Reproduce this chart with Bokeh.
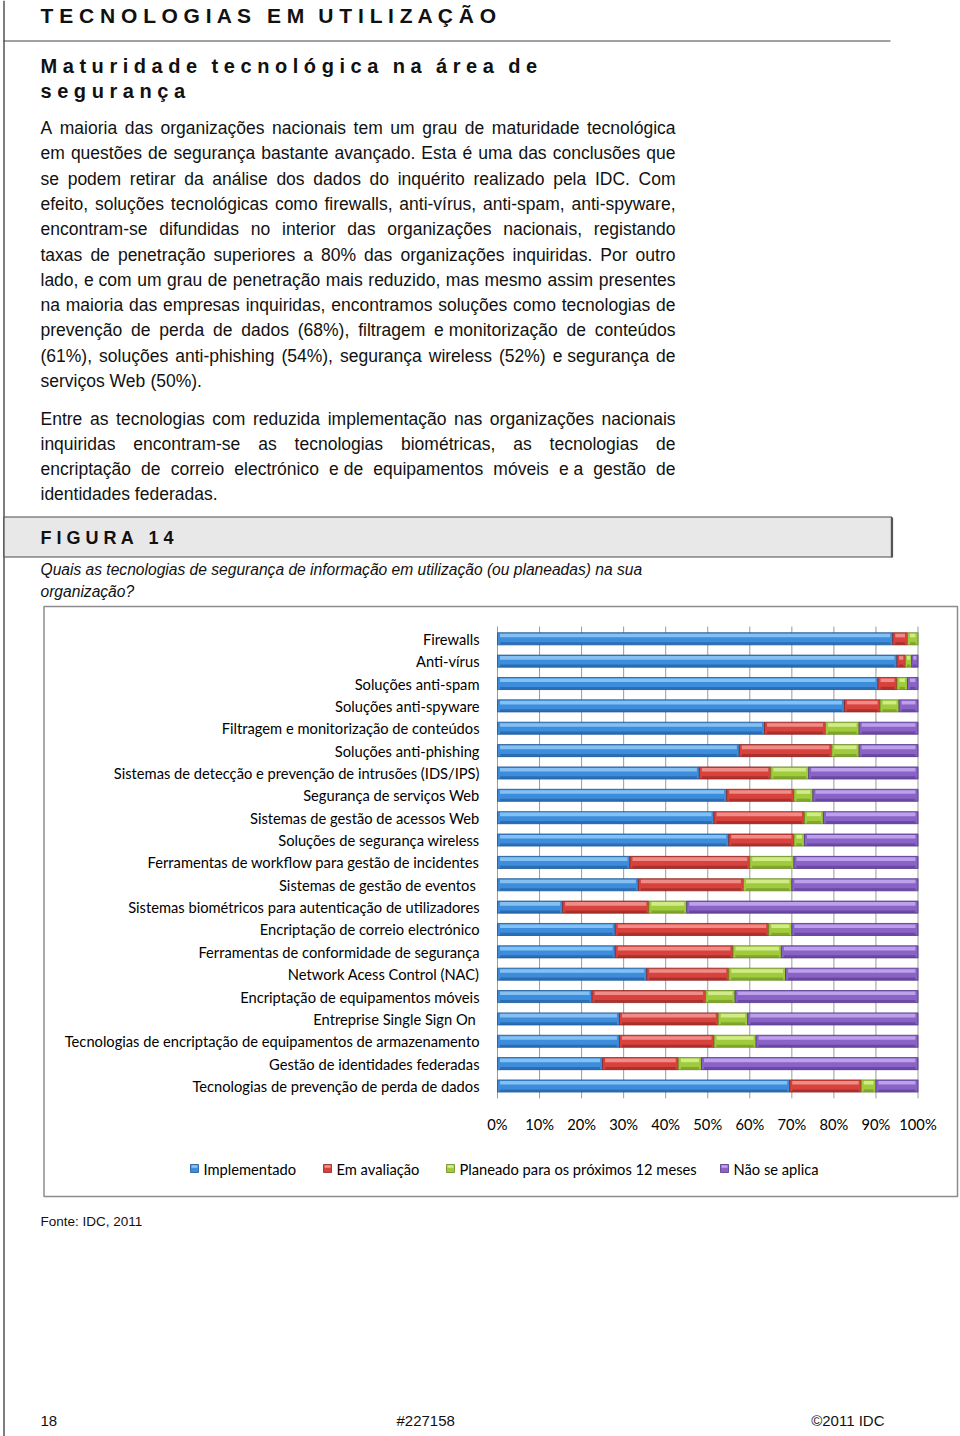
import unicodedata
import numpy as np
from bokeh.plotting import figure
from bokeh.models import Range1d, ColumnDataSource
from bokeh.core.properties import value
from bokeh.embed import file_html
from bokeh.resources import INLINE

# ---------------- data ----------------
categories = [
    "Firewalls",
    "Anti-vírus",
    "Soluções anti-spam",
    "Soluções anti-spyware",
    "Filtragem e monitorização de conteúdos",
    "Soluções anti-phishing",
    "Sistemas de detecção e prevenção de intrusões (IDS/IPS)",
    "Segurança de serviços Web",
    "Sistemas de gestão de acessos Web",
    "Soluções de segurança wireless",
    "Ferramentas de workflow para gestão de incidentes",
    "Sistemas de gestão de eventos ",
    "Sistemas biométricos para autenticação de utilizadores",
    "Encriptação de correio electrónico",
    "Ferramentas de conformidade de segurança",
    "Network Acess Control (NAC)",
    "Encriptação de equipamentos móveis",
    "Entreprise Single Sign On ",
    "Tecnologias de encriptação de equipamentos de armazenamento",
    "Gestão de identidades federadas",
    "Tecnologias de prevenção de perda de dados",
]
implementado = [94, 95, 90.5, 82.5, 63.5, 57.5, 48, 54.5, 51.5, 55, 31.5, 33.5, 15.5, 28, 28, 35.5, 22.5, 29, 29, 25, 69.5]
em_avaliacao = [3.5, 2, 4.5, 8.5, 14.5, 22, 17, 16, 21.5, 15.5, 28.5, 25, 20.5, 36.5, 28, 19.5, 27, 23.5, 22.5, 18, 17]
planeado = [2.5, 1.5, 2.5, 4.5, 8, 6.5, 9, 4.5, 4.5, 2.5, 10.5, 11.5, 9, 5.5, 11.5, 13.5, 7, 7, 10, 5.5, 3.5]
nao_aplica = [0, 1.5, 2.5, 4.5, 14, 14, 26, 25, 22.5, 27, 29.5, 30, 55, 30, 32.5, 31.5, 43.5, 40.5, 38.5, 51.5, 10]
series_names = ["Implementado", "Em avaliação", "Planeado para os próximos 12 meses", "Não se aplica"]
tick_values = [0, 10, 20, 30, 40, 50, 60, 70, 80, 90, 100]
tick_labels = ["0%", "10%", "20%", "30%", "40%", "50%", "60%", "70%", "80%", "90%", "100%"]

title_words = ["TECNOLOGIAS", "EM", "UTILIZAÇÃO"]
subtitle_line1 = ["Maturidade", "tecnológica", "na", "área", "de"]
subtitle_line2 = ["segurança"]
para1 = [
    "A maioria das organizações nacionais tem um grau de maturidade tecnológica",
    "em questões de segurança bastante avançado. Esta é uma das conclusões que",
    "se podem retirar da análise dos dados do inquérito realizado pela IDC. Com",
    "efeito, soluções tecnológicas como firewalls, anti-vírus, anti-spam, anti-spyware,",
    "encontram-se difundidas no interior das organizações nacionais, registando",
    "taxas de penetração superiores a 80% das organizações inquiridas. Por outro",
    "lado, e com um grau de penetração mais reduzido, mas mesmo assim presentes",
    "na maioria das empresas inquiridas, encontramos soluções como tecnologias de",
    "prevenção de perda de dados (68%), filtragem e monitorização de conteúdos",
    "(61%), soluções anti-phishing (54%), segurança wireless (52%) e segurança de",
    "serviços Web (50%).",
]
para2 = [
    "Entre as tecnologias com reduzida implementação nas organizações nacionais",
    "inquiridas encontram-se as tecnologias biométricas, as tecnologias de",
    "encriptação de correio electrónico e de equipamentos móveis e a gestão de",
    "identidades federadas.",
]
question = ["Quais as tecnologias de segurança de informação em utilização (ou planeadas) na sua",
            "organização?"]
figure_label = ["FIGURA", "14"]
source_note = "Fonte: IDC, 2011"
footer_left, footer_mid, footer_right = "18", "#227158", "©2011 IDC"

# ---------------- font metrics (Arial / Liberation Sans) ----------------
REG = {' ': 278, '!': 278, '"': 355, '#': 556, '%': 889, "'": 191, '(': 333, ')': 333,
       ',': 278, '-': 333, '.': 278, '/': 278, ':': 278, ';': 278, '?': 556, '©': 737}
for d in "0123456789":
    REG[d] = 556
REG.update(dict(zip("ABCDEFGHIJKLMNOPQRSTUVWXYZ",
                    [667, 667, 722, 722, 667, 611, 778, 722, 278, 500, 667, 556, 833, 722, 778, 667, 778, 722, 667, 611, 722, 667, 944, 667, 667, 611])))
REG.update(dict(zip("abcdefghijklmnopqrstuvwxyz",
                    [556, 556, 500, 556, 556, 278, 556, 556, 222, 222, 500, 222, 833, 556, 556, 556, 556, 333, 500, 278, 556, 500, 722, 500, 500, 500])))
BOLD = dict(REG)
BOLD.update(dict(zip("ABCDEFGHIJKLMNOPQRSTUVWXYZ",
                     [722, 722, 722, 722, 667, 611, 778, 722, 278, 556, 722, 611, 833, 722, 778, 667, 778, 722, 667, 611, 722, 667, 944, 667, 667, 611])))
BOLD.update(dict(zip("abcdefghijklmnopqrstuvwxyz",
                     [556, 611, 556, 611, 556, 333, 611, 611, 278, 278, 556, 278, 889, 611, 611, 611, 611, 389, 556, 333, 611, 556, 778, 556, 556, 500])))


def tw(s, size, table):
    w = 0
    for ch in s:
        if ch in table:
            w += table[ch]
        elif ch == 'í':
            w += 278
        else:
            w += table.get(unicodedata.normalize('NFD', ch)[0], 556)
    return w * size / 1000.0


def numeric_like(word):
    return all(c in "0123456789,.+-e" for c in word)


def tokens_of(line):
    """Words of a line; number-like words (e.g. 'e') are kept with the next word."""
    words = line.split(' ')
    out = []
    carry = None
    for w in words:
        if carry is not None:
            w = carry + ' ' + w
            carry = None
        if numeric_like(w):
            carry = w
            continue
        out.append(w)
    if carry is not None:
        if out:
            out[-1] = out[-1] + ' ' + carry
        else:
            out.append(carry)
    return out


def justify(lines, x0, x1, y0, dy, size):
    xs, ys, ws = [], [], []
    for i, line in enumerate(lines):
        toks = tokens_of(line)
        wid = [tw(t, size, REG) for t in toks]
        if i < len(lines) - 1 and len(toks) > 1:
            gap = (x1 - x0 - sum(wid)) / (len(toks) - 1)
        else:
            gap = tw(' ', size, REG)
        x = x0
        for t, wd in zip(toks, wid):
            xs.append(x); ys.append(y0 + i * dy); ws.append(t)
            x += wd + gap
    return xs, ys, ws


def spaced(words, x0, y, size, gap_em):
    xs, ys, ws = [], [], []
    x = x0
    for w in words:
        s = " ".join(list(w))
        xs.append(x); ys.append(y); ws.append(s)
        x += tw(s, size, BOLD) + gap_em * size
    return xs, ys, ws


# ---------------- figure (page coordinates = reference pixels) ----------------
W, H = 960, 1436
p = figure(width=W, height=H, x_range=Range1d(0, W), y_range=Range1d(H, 0),
           output_backend="svg", toolbar_location=None, min_border=0,
           x_axis_location=None, y_axis_location=None)
p.grid.visible = False
p.outline_line_color = None
p.background_fill_color = "white"
p.border_fill_color = "white"

# chart scales mapped onto the page
X0, X100 = 497.0, 917.5
k = (X100 - X0) / 100.0
p.extra_x_ranges = {"pct": Range1d((0 - X0) / k, (W - X0) / k)}
Y0, DY = 638.3, 22.36
p.extra_y_ranges = {"row": Range1d((H - Y0) / DY, (0 - Y0) / DY)}

BODY = value("Liberation Sans")
CHART = value("Lato")
INK = "#111111"

# ---------------- page decorations ----------------
p.segment(x0=[3.5], y0=[0], x1=[3.5], y1=[H], line_color="#555555", line_width=1.5)
p.segment(x0=[3], y0=[40.5], x1=[890], y1=[40.5], line_color="#444444", line_width=1.2)

tx, ty, tt = spaced(title_words, 40, 15, 21, 0.67)
p.text(x=tx, y=ty, text=tt, text_font=BODY, text_font_style="bold", text_font_size="21px",
       text_baseline="middle", text_align="left", text_color=INK)
sx, sy, st = spaced(subtitle_line1, 40, 65, 20, 0.72)
sx2, sy2, st2 = spaced(subtitle_line2, 40, 90, 20, 0.72)
p.text(x=sx + sx2, y=sy + sy2, text=st + st2, text_font=BODY, text_font_style="bold",
       text_font_size="20px", text_baseline="middle", text_align="left", text_color=INK)

BSIZE = 17.5
bx1, by1, bw1 = justify(para1, 40, 675, 127.5, 25.3, BSIZE)
bx2, by2, bw2 = justify(para2, 40, 675, 418, 25.3, BSIZE)
p.text(x=bx1 + bx2, y=by1 + by2, text=bw1 + bw2, text_font=BODY, text_font_size=f"{BSIZE}px",
       text_baseline="middle", text_align="left", text_color=INK)

# FIGURA box
p.quad(left=[3.5], right=[891], top=[516.5], bottom=[556.5], fill_color="#e8e8e8",
       line_color="#4a4a4a", line_width=1.2)
p.segment(x0=[891.5], y0=[517], x1=[891.5], y1=[557], line_color="#555555", line_width=2.2)
fx, fy, ft = spaced(figure_label, 40, 537, 18, 0.78)
p.text(x=fx, y=fy, text=ft, text_font=BODY, text_font_style="bold", text_font_size="18px",
       text_baseline="middle", text_align="left", text_color=INK)

p.text(x=[40, 40], y=[569, 591], text=question, text_font=BODY, text_font_style="italic",
       text_font_size="15.6px", text_baseline="middle", text_align="left", text_color=INK)

# chart frame
p.quad(left=[43.5], right=[957], top=[606], bottom=[1196], fill_color="white",
       line_color="#8c8c8c", line_width=1.5)

# ---------------- chart ----------------
n = len(categories)
rows = np.arange(n)
grid_src = ColumnDataSource(dict(x=tick_values, y0=[-0.55] * len(tick_values),
                                 y1=[n - 1 + 0.55] * len(tick_values)))
p.segment(x0="x", x1="x", y0="y0", y1="y1", source=grid_src, x_range_name="pct",
          y_range_name="row", line_color="#9a9a9a", line_width=1)

vals = np.array([implementado, em_avaliacao, planeado, nao_aplica], dtype=float)
rights = np.cumsum(vals, axis=0)
lefts = rights - vals
main_c = ["#3d8ddc", "#d8423d", "#9fcb3d", "#8a63c6"]
hi_c = ["#8cc6f4", "#f29590", "#d6ef8e", "#c2a6ee"]
dark_c = ["#1c5596", "#8a2320", "#68891f", "#523489"]
BH = 0.54
for s in range(4):
    m = vals[s] > 0
    src = ColumnDataSource(dict(y=rows[m], left=lefts[s][m], right=rights[s][m]))
    p.hbar(y="y", left="left", right="right", height=BH, source=src,
           x_range_name="pct", y_range_name="row",
           fill_color=main_c[s], line_color=dark_c[s], line_width=0.8)
    inset = np.minimum(0.6, vals[s][m] * 0.25)
    hsrc = ColumnDataSource(dict(y=rows[m] - BH * 0.27, left=lefts[s][m] + inset,
                                 right=rights[s][m] - inset))
    p.hbar(y="y", left="left", right="right", height=BH * 0.3, source=hsrc,
           x_range_name="pct", y_range_name="row",
           fill_color=hi_c[s], line_color=None, fill_alpha=0.9)
    dsrc = ColumnDataSource(dict(y=rows[m] + BH * 0.38, left=lefts[s][m] + inset,
                                 right=rights[s][m] - inset))
    p.hbar(y="y", left="left", right="right", height=BH * 0.2, source=dsrc,
           x_range_name="pct", y_range_name="row",
           fill_color=dark_c[s], line_color=None, fill_alpha=0.55)

CH_SIZE = "14.7px"
# category labels
p.text(x=[479] * n, y=rows, text=categories, y_range_name="row", text_font=CHART,
       text_font_size=CH_SIZE, text_baseline="middle", text_align="right", text_color="#000000")

# tick labels
p.text(x=tick_values, y=[1123] * len(tick_values), text=tick_labels, x_range_name="pct",
       text_font=CHART, text_font_size=CH_SIZE, text_baseline="middle", text_align="center",
       text_color="#000000")

# legend
leg_sq_x = [194, 327, 450, 724]
leg_y = 1168
p.rect(x=leg_sq_x, y=[leg_y] * 4, width=8, height=8, fill_color=main_c,
       line_color=dark_c, line_width=0.8)
p.rect(x=leg_sq_x, y=[leg_y - 2] * 4, width=6, height=2.5, fill_color=hi_c, line_color=None)
p.text(x=[x + 9 for x in leg_sq_x], y=[leg_y] * 4, text=series_names, text_font=CHART,
       text_font_size=CH_SIZE, text_baseline="middle", text_align="left", text_color="#000000")

# source + footer
p.text(x=[40], y=[1221], text=[source_note], text_font=BODY, text_font_size="13.5px",
       text_baseline="middle", text_align="left", text_color=INK)
p.text(x=[40, 396], y=[1420, 1420], text=[footer_left, footer_mid], text_font=BODY,
       text_font_size="15px", text_baseline="middle", text_align="left", text_color=INK)
p.text(x=[884], y=[1420], text=[footer_right], text_font=BODY,
       text_font_size="15px", text_baseline="middle", text_align="right", text_color=INK)

open("out.html", "w").write(file_html(p, INLINE))
